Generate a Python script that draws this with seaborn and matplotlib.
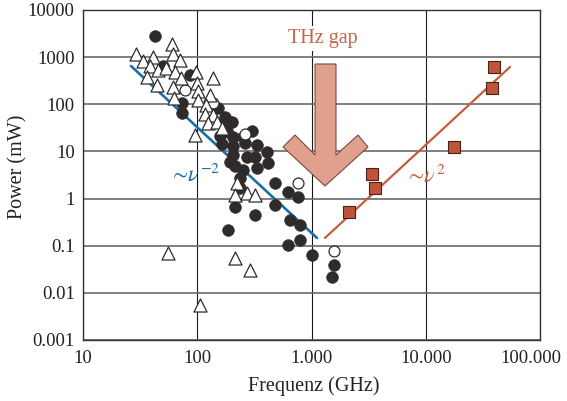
import matplotlib
matplotlib.use("Agg")
import matplotlib.pyplot as plt
import matplotlib.transforms as mtransforms
import seaborn as sns
import pandas as pd
from matplotlib.patches import Polygon

# --- data -----------------------------------------------------------------
# electronic sources (filled circles)
solid_ghz = [42.7, 50.1, 86.4, 73.5, 73.5, 152, 175, 201, 168, 182, 158, 206,
             252, 302, 165, 206, 262, 333, 408, 416, 333, 252, 273, 320, 206,
             194, 214, 237, 237, 479, 623, 762, 479, 214, 320, 186, 648, 793,
             623, 793, 1010, 1574, 1511]
solid_mw = [2810, 649, 418, 106, 65, 83, 54, 42, 36, 27, 21, 20,
            20, 27, 14.4, 13, 15, 14, 9.7, 5.7, 4.45, 4.0, 7.6, 7.6, 8.4,
            6.0, 4.9, 2.7, 1.67, 2.1, 1.4, 1.1, 0.73, 0.66, 0.45, 0.215, 0.35, 0.28,
            0.104, 0.13, 0.064, 0.039, 0.022]

# open circles
open_ghz = [78.1, 137, 262, 762, 1574]
open_mw = [201, 106, 23.4, 2.14, 0.077]

# open triangles
tri_ghz = [60.1, 29.1, 41.0, 61.3, 33.5, 70.6, 38.6, 45.3, 53.3, 63.9, 97.5,
           36.3, 72.1, 137, 99.5, 44.4, 61.3, 101.5, 129, 62.6, 101.5, 119,
           117, 137, 124, 149, 165, 95.6, 223, 214, 273, 320, 55.5, 214, 290, 106]
tri_mw = [1900, 1166, 1007, 1166, 828, 870, 649, 533, 588, 484, 484,
          379, 361, 361, 283, 256, 233, 191, 157, 136, 123, 96.5,
          62, 59, 40, 42, 31, 22.3, 2.14, 1.19, 1.31, 1.19, 0.070, 0.055, 0.0305, 0.0055]

# optical / laser sources (squares)
sq_ghz = [39500, 38000, 17650, 3390, 3600, 2130]
sq_mw = [618, 221, 12.4, 3.3, 1.67, 0.52]

# trend lines ~nu^-2 and ~nu^2
low_fit_ghz = [26.3, 1117]
low_fit_mw = [649, 0.146]
high_fit_ghz = [1312, 54600]
high_fit_mw = [0.146, 618]

x_ticks = [10, 100, 1000, 10000, 100000]
x_labels = ["10", "100", "1.000", "10.000", "100.000"]
y_ticks = [0.001, 0.01, 0.1, 1, 10, 100, 1000, 10000]
y_labels = ["0.001", "0.01", "0.1", "1", "10", "100", "1000", "10000"]

# --- style ----------------------------------------------------------------
sns.set_style("white")
plt.rcParams["font.family"] = ["Liberation Serif", "DejaVu Serif"]
plt.rcParams["mathtext.fontset"] = "stix"

BLUE = "#1b6fa8"
RUST = "#c65c3e"
DARK = "#2f2b2b"

fig = plt.figure(figsize=(5.67, 4.01), dpi=100)
ax = fig.add_axes([83 / 567, 61 / 401, 457 / 567, 330 / 401])
ax.set_xscale("log")
ax.set_yscale("log")

# trend lines
sns.lineplot(x=low_fit_ghz, y=low_fit_mw, color=BLUE, linewidth=1.9, ax=ax,
             zorder=2)
sns.lineplot(x=high_fit_ghz, y=high_fit_mw, color=RUST, linewidth=1.6, ax=ax,
             zorder=2)

# markers
sns.scatterplot(x=solid_ghz, y=solid_mw, marker="o", s=72, color=DARK,
                edgecolor=DARK, linewidth=0.4, ax=ax, zorder=3)
sns.scatterplot(x=open_ghz, y=open_mw, marker="o", s=62, color="white",
                edgecolor=DARK, linewidth=0.9, ax=ax, zorder=4)
sns.scatterplot(x=tri_ghz, y=tri_mw, marker="^", s=88, color="white",
                edgecolor=DARK, linewidth=0.9, ax=ax, zorder=5)
sns.scatterplot(x=sq_ghz, y=sq_mw, marker="s", s=72, color="#c0533a",
                edgecolor="#4a2018", linewidth=0.8, ax=ax, zorder=5)

# axes, ticks, grid
ax.set_xlim(10, 100000)
ax.set_ylim(0.001, 10000)
ax.set_xticks(x_ticks)
ax.set_xticklabels(x_labels)
ax.set_yticks(y_ticks)
ax.set_yticklabels(y_labels)
ax.minorticks_off()
ax.tick_params(length=0, labelsize=13.5, colors="#222222")
ax.tick_params(axis="x", pad=7)
ax.tick_params(axis="y", pad=6)
ax.set_axisbelow(True)
ax.yaxis.grid(True, color="#6a6a6a", linewidth=1.2)
ax.xaxis.grid(True, color="#1a1a1a", linewidth=0.8)
for sp in ax.spines.values():
    sp.set_color("#333333")
    sp.set_linewidth(1.0)

# keep the last frequency label inside the figure
last = ax.get_xticklabels()[-1]
last.set_transform(last.get_transform() +
                   mtransforms.ScaledTranslation(-0.09, 0, fig.dpi_scale_trans))

ax.set_xlabel("Frequenz (GHz)", fontsize=14.5, color="#222222")
ax.set_ylabel("Power (mW)", fontsize=14.5, color="#222222")
ax.xaxis.set_label_coords(0.505, -0.11)
ax.yaxis.set_label_coords(-0.122, 0.524)

# THz gap arrow
arrow = Polygon([(0.5077, 0.8364), (0.5536, 0.8364), (0.5536, 0.5606),
                 (0.6018, 0.6212), (0.6236, 0.5848), (0.5295, 0.4667),
                 (0.4376, 0.5848), (0.4639, 0.6212), (0.5077, 0.5606)],
                closed=True, transform=ax.transAxes, facecolor="#dfa08e",
                edgecolor="#7a4a40", linewidth=0.8, zorder=1.5)
ax.add_patch(arrow)

ax.text(0.525, 0.90, "THz gap", transform=ax.transAxes, ha="center",
        va="baseline", fontsize=14.5, color="#c8644a", zorder=6,
        bbox=dict(boxstyle="square,pad=0.15", facecolor="white",
                  edgecolor="none"))
ax.text(0.245, 0.479, r"$\sim\!\nu^{-2}$", transform=ax.transAxes,
        ha="center", va="baseline", fontsize=16, color=BLUE, zorder=6)
ax.text(0.748, 0.476, r"$\sim\!\nu^{2}$", transform=ax.transAxes,
        ha="center", va="baseline", fontsize=16, color=RUST, zorder=6)

fig.savefig("out.png", dpi=100)
